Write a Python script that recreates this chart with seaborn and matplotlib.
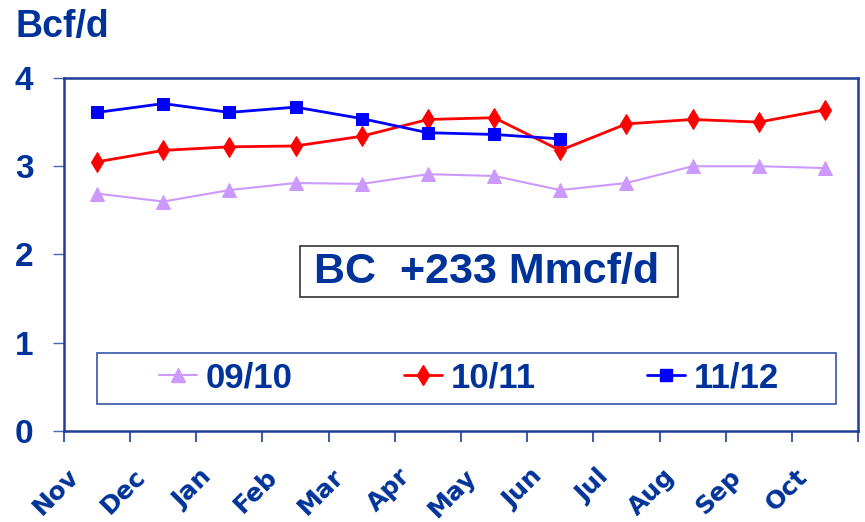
import matplotlib
matplotlib.use("Agg")
import matplotlib.pyplot as plt
from matplotlib.patches import Rectangle
from matplotlib.lines import Line2D
from matplotlib.transforms import ScaledTranslation
import seaborn as sns
import pandas as pd
import numpy as np

months = ["Nov", "Dec", "Jan", "Feb", "Mar", "Apr", "May", "Jun", "Jul", "Aug", "Sep", "Oct"]
s0910 = [2.69, 2.60, 2.73, 2.81, 2.80, 2.91, 2.89, 2.73, 2.81, 3.00, 3.00, 2.98]
s1011 = [3.05, 3.18, 3.22, 3.23, 3.34, 3.53, 3.55, 3.18, 3.48, 3.53, 3.50, 3.64]
s1112 = [3.61, 3.71, 3.61, 3.67, 3.54, 3.38, 3.36, 3.31]
series_names = ["09/10", "10/11", "11/12"]
yticks = [0, 1, 2, 3, 4]
note = "BC  +233 Mmcf/d"
ylabel = "Bcf/d"

TXT = "#003399"
SPINE = "#1f3d99"
colors = {"09/10": "#cc99ff", "10/11": "#ff0000", "11/12": "#0000ff"}
markers = {"09/10": "^", "10/11": "d", "11/12": "s"}
lws = {"09/10": 1.5, "10/11": 2.0, "11/12": 2.0}
msz = {"09/10": 10, "10/11": 10, "11/12": 9}

rows = []
for name, vals in zip(series_names, [s0910, s1011, s1112]):
    for i, v in enumerate(vals):
        rows.append({"month": months[i], "idx": i, "value": v, "series": name})
df = pd.DataFrame(rows)

sns.set_style("white")
fig = plt.figure(figsize=(8.65, 5.22), dpi=100)
ax = fig.add_axes([64/865, 1-431/522, 794/865, 353/522])

for name in series_names:
    sub = df[df.series == name]
    sns.lineplot(data=sub, x="idx", y="value", ax=ax, color=colors[name],
                 marker=markers[name], markersize=msz[name], linewidth=lws[name],
                 markeredgecolor=colors[name], legend=False, zorder=3)

ax.set_xlim(-0.5, len(months) - 0.5)
ax.set_ylim(0, 4)
ax.set_xlabel("")
ax.set_ylabel("")

for sp in ax.spines.values():
    sp.set_color(SPINE)
    sp.set_linewidth(1.8)

ax.set_yticks(yticks)
ax.set_yticklabels([str(t) for t in yticks], fontsize=24, fontweight="bold",
                   color=TXT, family="Liberation Sans")
ax.tick_params(axis="y", which="major", direction="out", length=8, width=1,
               color="#4466bb", pad=14, left=True)

ax.set_xticks(np.arange(len(months)))
ax.set_xticklabels(months, rotation=45, ha="right", rotation_mode="anchor",
                   fontsize=18, fontweight="bold", color=TXT, family="DejaVu Sans")
ax.tick_params(axis="x", which="major", length=0, pad=24)
ax.set_xticks(np.arange(-0.5, len(months), 1.0), minor=True)
ax.tick_params(axis="x", which="minor", direction="out", length=8, width=1.2,
               color=SPINE, bottom=True)
off = ScaledTranslation(-30/100, 0, fig.dpi_scale_trans)
for lab in ax.get_xticklabels():
    lab.set_transform(lab.get_transform() + off)

fig.text(15/865, 1-37/522, ylabel, fontsize=27, fontweight="bold", color=TXT,
         family="Liberation Sans", ha="left", va="baseline")

# annotation box
ax.add_patch(Rectangle(((300-64)/794, (431-297)/353), (678-300)/794, 51/353,
                       transform=ax.transAxes, fill=True, facecolor="white",
                       edgecolor="#333333", linewidth=1.2, zorder=4))
ax.text((487-64)/794, (431-272)/353, note, transform=ax.transAxes,
        fontsize=31, fontweight="bold", color=TXT, family="Liberation Sans",
        ha="center", va="center", zorder=5)

# legend box
ax.add_patch(Rectangle(((97-64)/794, (431-404)/353), (836-97)/794, 51/353,
                       transform=ax.transAxes, fill=True, facecolor="white",
                       edgecolor="#3355aa", linewidth=1.2, zorder=4))
handles = [Line2D([0], [0], color=colors[n], marker=markers[n], markersize=msz[n],
                  markeredgecolor=colors[n], linewidth=lws[n]) for n in series_names]
leg = ax.legend(handles, series_names, loc="center", ncol=3,
                bbox_to_anchor=((469-64)/794, (431-378)/353), frameon=False,
                handlelength=1.1, handletextpad=0.25, columnspacing=3.2,
                prop={"family": "Liberation Sans", "weight": "bold", "size": 25})
leg.set_zorder(6)
for t in leg.get_texts():
    t.set_color(TXT)

fig.savefig("out.png", dpi=100)
